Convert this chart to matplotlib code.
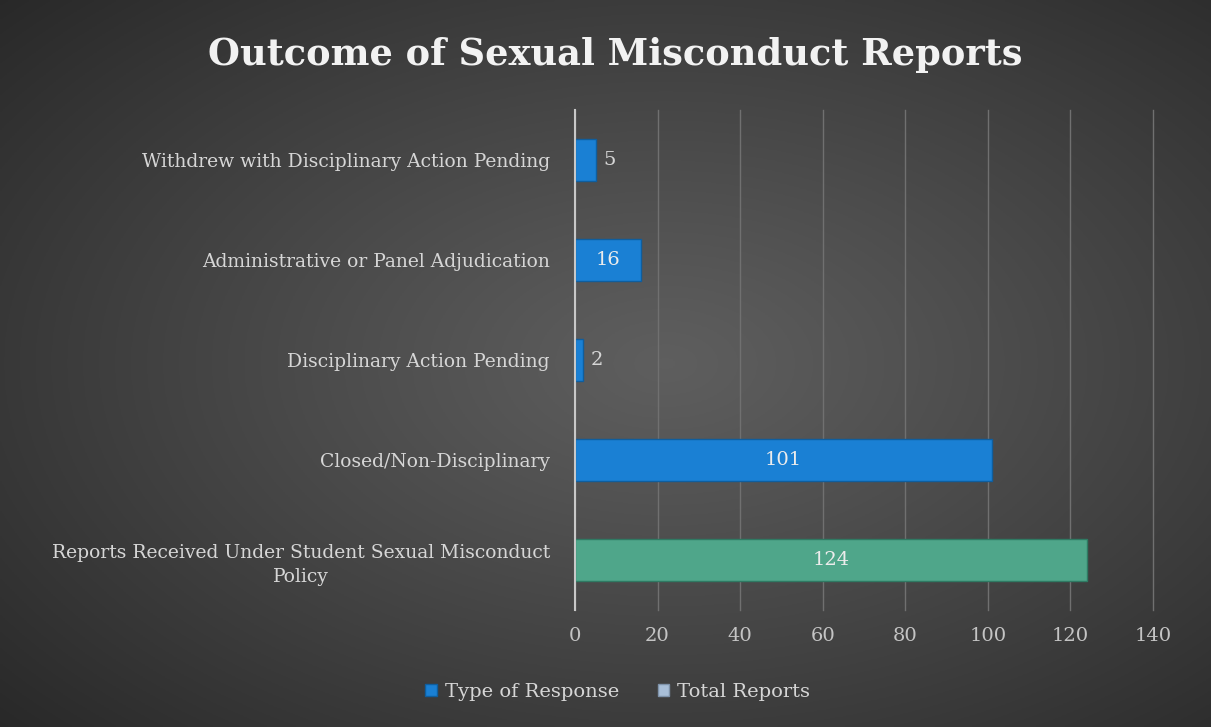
import numpy as np
import matplotlib.pyplot as plt
from matplotlib.patches import Patch

# данные с картинки
categories = ['Reports Received Under Student Sexual Misconduct\nPolicy',
              'Closed/Non-Disciplinary',
              'Disciplinary Action Pending',
              'Administrative or Panel Adjudication',
              'Withdrew with Disciplinary Action Pending']
values = [124, 101, 2, 16, 5]
series = ['Total Reports', 'Type of Response', 'Type of Response',
          'Type of Response', 'Type of Response']
ticks = [0, 20, 40, 60, 80, 100, 120, 140]

colors = {'Type of Response': '#1a80d4', 'Total Reports': '#4fa68a'}
edges = {'Type of Response': '#0f5e9e', 'Total Reports': '#2f7a63'}
txt = '#d6d6d6'
plt.rcParams['font.family'] = ['DejaVu Serif']

fig = plt.figure(figsize=(12.11, 7.27), dpi=100)

# фон - радиальный градиент, центр чуть правее середины
bg = fig.add_axes([0, 0, 1, 1])
yy, xx = np.mgrid[-1:1:300j, -1.1:0.9:500j]
r = np.sqrt(xx ** 2 + yy ** 2) / np.sqrt(2.2)
shade = 0.37 - (0.37 - 0.16) * np.clip(r, 0, 1) ** 1.1
bg.imshow(np.dstack([shade] * 3), aspect='auto', extent=[0, 1, 0, 1])
bg.set_axis_off()

ax = fig.add_axes([0.4748, 0.161, 0.4772, 0.688])
ax.set_facecolor('none')
y = np.arange(len(categories))
bars = ax.barh(y, values, height=0.42,
               color=[colors[s] for s in series],
               edgecolor=[edges[s] for s in series],
               linewidth=1.0, zorder=3)

for b, v in zip(bars, values):
    cy = b.get_y() + b.get_height() / 2
    if v >= 10:
        ax.text(v / 2, cy, str(v), ha='center', va='center', color='#ececec',
                fontsize=14, zorder=4)
    else:
        ax.text(v + 1.8, cy, str(v), ha='left', va='center', color=txt,
                fontsize=14, zorder=4)

ax.set_xlim(0, 140)
ax.set_ylim(-0.5, len(categories) - 0.5)
ax.set_xticks(ticks)
ax.set_yticks(y)
ax.set_yticklabels(categories)
ax.tick_params(axis='x', colors='#c4c4c4', labelsize=14, length=0, pad=12)
ax.tick_params(axis='y', colors=txt, labelsize=13.5, length=0, pad=18)
for lab in ax.get_yticklabels():
    lab.set_multialignment('center')
    lab.set_linespacing(1.45)
ax.grid(axis='x', color='#707070', linewidth=1, zorder=0)
for gl in ax.get_xgridlines():
    gl.set_clip_on(False)
for s in ['top', 'right', 'bottom']:
    ax.spines[s].set_visible(False)
ax.spines['left'].set_color('#c8c8c8')
ax.spines['left'].set_linewidth(1.5)
ax.spines['left'].set_zorder(5)

fig.text(0.508, 0.925, 'Outcome of Sexual Misconduct Reports', ha='center',
         va='center', color='#f2f2f2', fontsize=26.5, fontweight='bold')

handles = [Patch(facecolor=colors['Type of Response'], edgecolor=edges['Type of Response']),
           Patch(facecolor='#a9bfd8', edgecolor='#7f93aa')]
fig.legend(handles, ['Type of Response', 'Total Reports'], loc='center',
           bbox_to_anchor=(0.51, 0.048), ncol=2, frameon=False,
           labelcolor=txt, fontsize=14, handlelength=0.6, handleheight=0.6,
           handletextpad=0.4, columnspacing=2.0)

fig.savefig('out.png', dpi=100)
